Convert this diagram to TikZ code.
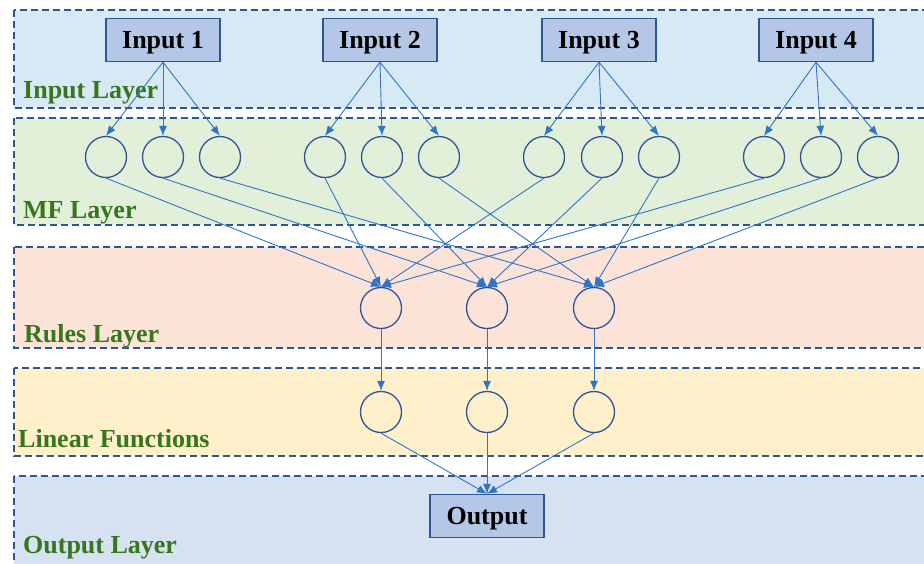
\documentclass[tikz,border=0pt]{standalone}
\usepackage{fontspec}
\setmainfont{Liberation Serif}
\usepackage{xcolor}
\usetikzlibrary{arrows.meta}

\definecolor{EdgeBlue}{HTML}{2F5597}
\definecolor{BoxBlue}{HTML}{B4C7E7}
\definecolor{LinkBlue}{HTML}{2E75C8}
\definecolor{LayerGreen}{HTML}{38761D}
\definecolor{InFill}{HTML}{D7E9F5}
\definecolor{MFFill}{HTML}{E2F0D9}
\definecolor{RuleFill}{HTML}{FCE3D8}
\definecolor{LinFill}{HTML}{FFF0CC}
\definecolor{OutFill}{HTML}{D6E2F1}

\begin{document}
\begin{tikzpicture}[x=1pt,y=-1pt]
\tikzset{
band/.style={ draw=EdgeBlue , dash pattern=on 7pt off 4pt , line width=1.3pt },
layer/.style={ anchor=base west , inner sep=0pt , text=LayerGreen ,
font=\fontsize{26}{30}\selectfont\bfseries },
iobox/.style={ rectangle , draw=EdgeBlue , fill=BoxBlue , line width=1.3pt ,
minimum width=114pt , minimum height=43pt , inner sep=0pt ,
text height=17pt , text depth=0pt ,
font=\fontsize{26}{30}\selectfont\bfseries },
neuron/.style={ circle , draw=EdgeBlue , line width=1.3pt ,
minimum size=41pt , inner sep=0pt },
link/.style={ draw=LinkBlue , line width=0.9pt , -{Latex[length=10pt,width=8pt]} }
}
\path[use as bounding box, clip] (0,0) rectangle (924,563);

% layers
\draw[band, fill=InFill] (14,10) rectangle (940,108);
\draw[band, fill=MFFill] (14,118) rectangle (940,225);
\draw[band, fill=RuleFill] (14,247) rectangle (940,348);
\draw[band, fill=LinFill] (14,368) rectangle (940,456);
\draw[band, fill=OutFill] (14,476) rectangle (940,590);

\node[layer] (lblin) at (23,98) {Input Layer};
\node[layer] (lblmf) at (23,218) {MF Layer};
\node[layer] (lblrule) at (24,342) {Rules Layer};
\node[layer] (lbllin) at (18,447) {Linear Functions};
\node[layer] (lblout) at (23,553) {Output Layer};

% inputs
\node[iobox] (in1) at (163,40) {Input 1};
\node[iobox] (in2) at (380,40) {Input 2};
\node[iobox] (in3) at (599,40) {Input 3};
\node[iobox] (in4) at (816,40) {Input 4};

% membership functions
\node[neuron] (mf11) at (106,157) {};
\node[neuron] (mf12) at (163,157) {};
\node[neuron] (mf13) at (220,157) {};
\node[neuron] (mf21) at (325,157) {};
\node[neuron] (mf22) at (382,157) {};
\node[neuron] (mf23) at (439,157) {};
\node[neuron] (mf31) at (544,157) {};
\node[neuron] (mf32) at (602,157) {};
\node[neuron] (mf33) at (659,157) {};
\node[neuron] (mf41) at (764,157) {};
\node[neuron] (mf42) at (821,157) {};
\node[neuron] (mf43) at (878,157) {};

% rules and linear functions
\node[neuron] (rule1) at (381,308) {};
\node[neuron] (rule2) at (487,308) {};
\node[neuron] (rule3) at (594,308) {};
\node[neuron] (lin1) at (381,412) {};
\node[neuron] (lin2) at (487,412) {};
\node[neuron] (lin3) at (594,412) {};

\node[iobox] (out) at (487,516) {Output};

\foreach \i in {1,...,4}
  \foreach \j in {1,2,3} {
    \draw[link] (in\i.south) -- (mf\i\j.north);
    \draw[link] (mf\i\j.south) -- (rule\j.north);
  }
\foreach \j in {1,2,3} {
  \draw[link] (rule\j.south) -- (lin\j.north);
  \draw[link] (lin\j.south) -- (out.north);
}

\end{tikzpicture}
\end{document}
